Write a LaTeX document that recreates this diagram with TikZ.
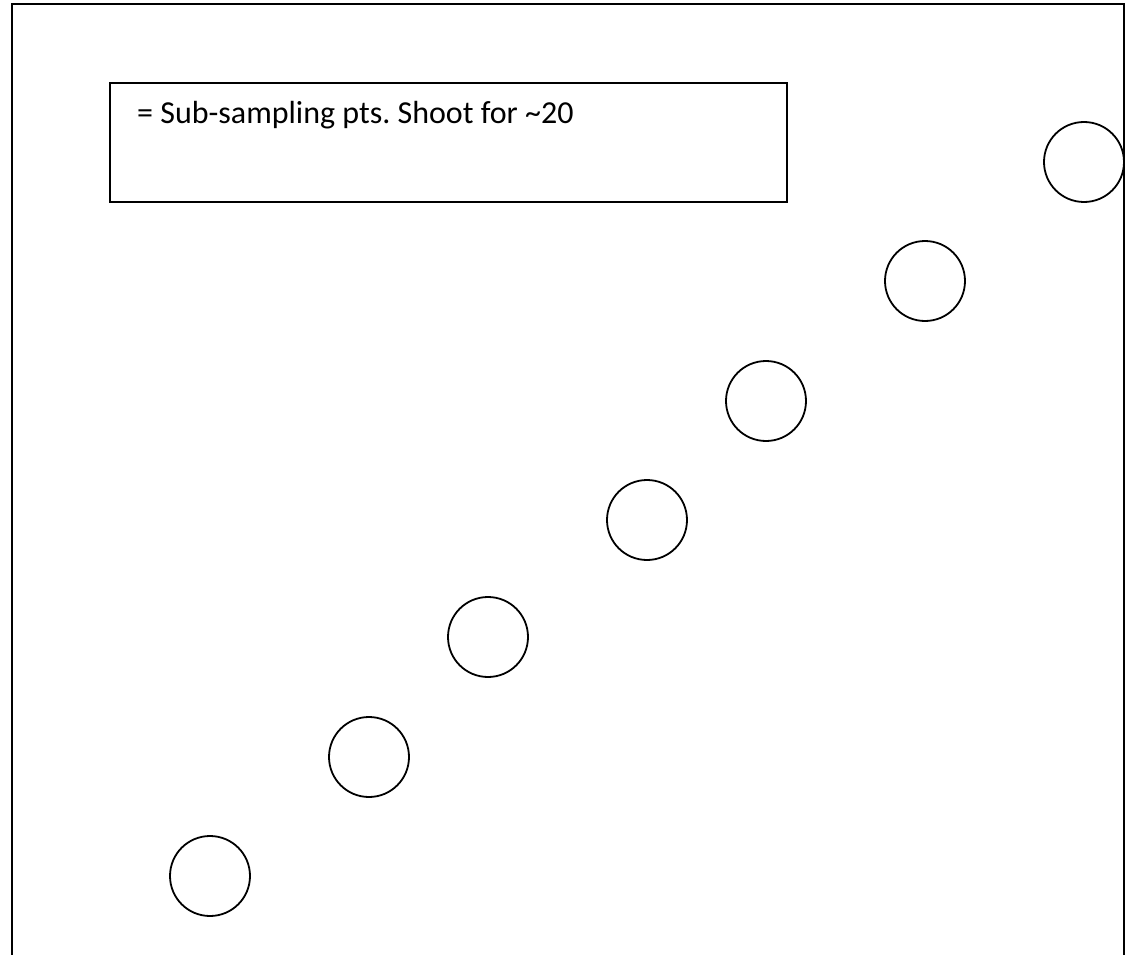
\documentclass[tikz,border=0pt]{standalone}
\usepackage{fontspec}
\setmainfont{Carlito}
\begin{document}
\frenchspacing
\begin{tikzpicture}[x=1pt,y=-1pt,
  pt/.style={draw=black,line width=1.8pt,circle,minimum size=80pt,inner sep=0pt},
  frame/.style={line width=2pt},
  legend/.style={draw=black,line width=1.5pt,minimum width=677pt,minimum height=119pt,inner sep=0pt}]
\useasboundingbox (0,0) rectangle (1128,955);
\fill[white] (0,0) rectangle (1128,955);
\coordinate (bl) at (12,955);
\coordinate (tl) at (12,4);
\coordinate (tr) at (1123.5,4);
\coordinate (br) at (1123.5,955);
\draw[frame] (bl) -- (tl) -- (tr) -- (br);
\node[legend] (box) at (448.5,142.5) {};
\node[anchor=base west,inner sep=0pt,font=\fontsize{32}{36}\selectfont] (txt) at (137,124) {= Sub-sampling pts. Shoot for \textasciitilde20};
\node[pt] (c1) at (1084,162) {};
\node[pt] (c2) at (925,281) {};
\node[pt] (c3) at (766,401) {};
\node[pt] (c4) at (647,520) {};
\node[pt] (c5) at (488,637) {};
\node[pt] (c6) at (369,757) {};
\node[pt] (c7) at (210,876) {};
\end{tikzpicture}
\end{document}
